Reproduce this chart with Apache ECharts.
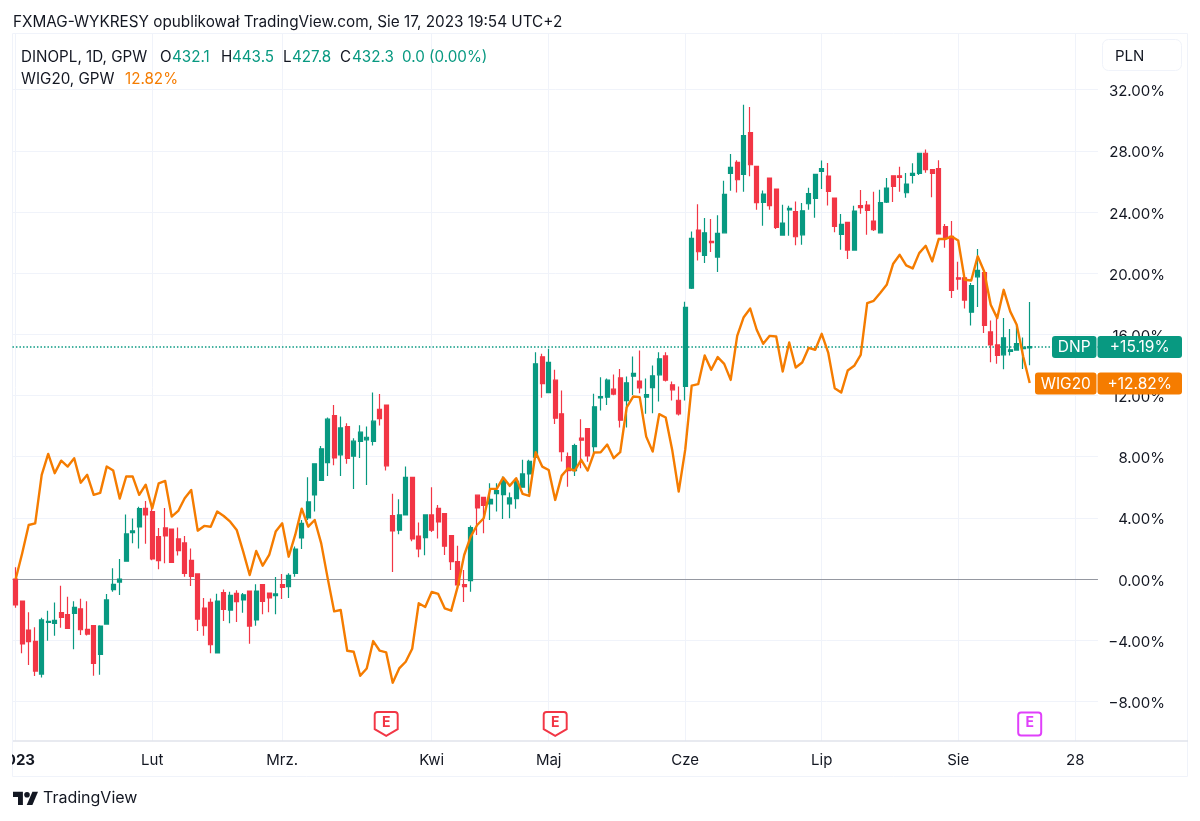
<!DOCTYPE html>
<html><head><meta charset="utf-8">
<style>html,body{margin:0;padding:0;background:#fff}#c{width:1200px;height:821px}</style>
<script src="https://cdn.jsdelivr.net/npm/echarts@6/dist/echarts.min.js"></script>
</head><body><div id="c"></div>
<script>
const tickIndex=[0,21,41,64,82,103,124,145,163];
const tickText=['2023','Lut','Mrz.','Kwi','Maj','Cze','Lip','Sie','28'];
const percentTicks=[-8,-4,0,4,8,12,16,20,24,28,32];
const opens=[0,-1.44,-3.34,-4.08,-6.22,-2.84,-2.9,-2.2,-2.33,-2.25,-1.96,-3.29,-3.05,-4.93,-2.95,-0.7,-0.2,1.16,3.03,3.4,4.62,4.41,2.77,3.34,3.27,2.62,2.36,1.22,0.33,-1.9,-1.53,-4.84,-0.89,-2.03,-0.94,-1.37,-0.79,-2.68,-0.37,-0.92,-1.09,
-0.37,-0.5,0.37,2.68,3.99,5.5,6.44,7.61,10.69,8.12,9.97,8.03,8.99,9.1,8.99,11.1,11.37,4.14,3.19,4.19,6.65,2.81,2.71,4.19,4.62,4.28,2.84,1.13,-0.37,-0.11,5.48,5.34,4.91,5.58,5.52,4.91,5.26,6,6.87,
7.96,14.53,12.19,13,10.8,8.01,7.09,9.21,9.84,8.66,11.85,11.89,12.41,13.15,11.67,13.26,12.94,11.89,12.52,13.35,14.59,12.7,11.69,12.59,
19.02,22.82,21.16,22.08,21.05,22.64,26.53,27.25,26.46,29.19,26.98,24.63,26.22,25.5,22.49,24.13,24.02,22.51,24.54,24.89,26.66,26.35,24.91,22.53,23.32,21.51,24.41,24.45,23.41,22.64,
24.65,26.37,26.37,25.26,26.4,26.53,27.84,26.77,26.83,23.04,22.4,19.7,19.7,17.45,19.76,20.03,16.16,15.31,14.66,14.88,14.97,15.07,15.12];
const closes=[-1.7,-4.25,-4.1,-6.02,-2.68,-2.77,-2.71,-2.51,-3.23,-1.85,-3.32,-3.6,-5.52,-3.08,-1.37,-0.35,0,2.95,3.14,4.6,4.19,1.31,1.2,2.81,1.09,1.85,0.37,0.17,-2.62,-3.05,-4.3,-1.44,-1.99,-1.07,-1.48,-1.03,-3.08,-0.79,-1.46,-1.24,-0.98,
-0.55,0.24,1.96,3.64,5.04,7.53,8.51,10.45,7.92,9.88,7.88,9.01,9.6,9.27,10.32,10.49,7.4,3.14,4.19,6.65,2.62,1.96,4.19,3.19,3.73,2.14,1.13,-0.39,-0.5,3.36,4.65,4.82,5.21,5.78,6.48,5.3,6.39,6.87,7.7,
14.07,12.78,14.16,10.51,8.33,7.09,8.73,9.08,8.05,11.26,11.93,13,12.09,10.38,12.83,13.44,12.5,12.06,13.29,14.4,13,12.37,10.8,17.76,
22.27,21.4,22.64,21.99,22.6,25.15,26.92,26.11,28.99,27.09,24.61,25.17,24.41,22.99,23.28,24.24,22.38,24.08,25.2,26.46,26.83,25.35,23.06,23.19,21.51,24.06,24.28,24.11,22.84,24.61,
25.57,25.68,26.27,25.83,26.53,27.84,26.77,26.53,22.56,22.29,18.87,19.61,18.24,19.18,20.18,16.58,15.31,14.62,15.77,14.99,15.4,15.16,15.19];
const lows=[-1.88,-4.86,-5.63,-6.35,-6.44,-4.04,-3.71,-3.19,-3.27,-4.6,-3.66,-3.69,-6.33,-6.26,-2.97,-0.83,-1.05,1.13,2.33,1.99,2.31,1.22,0.63,1.03,1.07,1.53,0.15,-0.46,-3.4,-3.71,-4.86,-4.86,-2.75,-2.9,-2.81,-2.2,-4.23,-3.05,-2.31,-2.18,-2.31,
-1.31,-1.24,0.15,1.96,3.86,4.41,6.41,6.74,7.44,6.74,7.53,5.89,7.92,6.15,8.73,10.03,7.09,0.46,2.92,4.19,2.47,1.42,1.55,3.08,2.64,1.57,0.59,-0.39,-1.51,-0.83,2.88,2.99,3.86,4.41,3.93,3.97,4.6,6,5.61,
7.9,11.85,12.15,10.14,7.68,6.04,6.74,7.24,7.66,8.22,11.02,11.37,12.02,9.9,9.9,12.04,12.15,10.8,10.84,11.61,12.91,11.67,10.69,11.67,
18.96,20.83,20.66,21.38,20.07,22.62,25.39,25.28,25.33,26.33,24.15,23.1,24.15,22.88,22.45,22.45,21.82,21.86,24.15,23.63,25.5,24.43,22.67,21.53,20.92,21.49,23.89,22.51,22.75,22.62,
24.59,24.65,25.33,24.93,25.87,26.42,26.57,24.96,22.54,21.66,18.37,18.91,17.69,16.58,17.78,16.08,14.18,14.07,13.72,14.62,14.92,13.74,13.98];
const highs=[0.76,-1.44,-2.18,-3.16,-2.53,-2.07,-1.53,-0.44,-1.16,-1.46,-1.29,-1.46,-3.05,-3.03,-0.98,0.7,1.31,4.21,3.95,4.73,5.1,4.95,3.34,4.65,3.27,3.36,2.81,1.99,0.37,-1.24,-1.27,-0.96,-0.68,-0.83,-0.74,-0.92,-0.79,-0.35,-0.37,-0.92,0.13,
0.33,0.37,2.12,3.86,6.65,7.57,8.7,10.56,11.37,10.62,10.19,9.21,10.06,9.97,12.19,12.09,11.37,5.58,5.21,7.35,6.65,3.69,4.19,6,4.84,4.28,2.84,2.18,0.59,3.49,5.48,5.34,6.26,6.26,6.7,5.65,6.59,7.79,7.79,
14.83,14.73,15.05,13.68,12.33,8.27,8.84,10.45,9.84,12.11,13.2,13.11,13.37,13.74,13.24,14.55,14.94,13.11,13.96,14.83,14.83,12.91,12.59,18.13,
22.73,24.5,23.6,23.54,23.78,26.05,27.79,27.38,31.02,30.87,27.03,25.41,26.22,25.5,24.48,24.41,24.69,24.59,25.59,26.46,27.36,27.2,24.91,23.87,23.32,24.41,25.44,24.72,25.33,25.46,
26.22,26.37,26.96,26.55,27.18,27.84,28.08,26.77,27.38,23.21,23.41,20.75,19.7,19.35,21.58,20.03,16.91,17.06,17.06,16.34,16.58,15.79,18.11];
const wig20=[0,1.68,3.53,3.64,6.81,8.18,6.92,7.74,7.35,7.9,6.3,6.81,5.5,5.63,7.35,7.09,5.26,6.7,6.7,5.5,6.17,4.62,6.26,6.41,4.08,4.45,5.28,5.82,3.16,3.47,3.42,4.41,4.12,3.75,3.21,1.79,0.26,1.83,0.87,1.57,3.1,
3.64,1.46,2.88,4.6,3.42,3.86,2.33,0.04,-2.12,-2.03,-4.69,-4.76,-6.33,-5.85,-4.06,-4.69,-4.8,-6.78,-5.85,-5.41,-4.56,-1.59,-1.83,-0.85,-0.98,-1.92,-2.07,-0.5,1.57,2.77,3.53,3.97,5.89,5.89,6.63,6.09,6.59,5.56,5.43,
8.29,7.35,7.13,5.17,6.76,7.24,7.09,7.79,7.09,8.27,8.29,8.79,7.9,8.29,11.23,11.93,11.89,9.31,8.33,10.78,10.56,8.44,5.72,8.44,12.65,12.74,
14.62,13.68,14.51,14.07,13.02,15.9,17.12,17.69,16.3,15.38,15.9,15.86,13.57,15.47,13.83,14.16,15.12,14.99,16.03,14.81,12.48,12.19,13.63,13.94,14.66,18.04,18.19,18.7,
19.24,20.62,21.2,20.51,20.31,21.31,21.79,20.77,22.23,22.23,22.4,22.14,19.57,19.52,21.1,20.11,17.93,17.06,18.91,17.5,16.62,14.55,12.82];
const lastDnp=15.19;

const GREEN='#089981',RED='#f23645',ORANGE='#f57c00',PURPLE='#e040fb',INK='#131722',GRID='#f0f3fa',FONT='Inter, "Noto Sans", sans-serif';
const barCount=167;
const categories=[];
for(let i=0;i<barCount;i++){const k=tickIndex.indexOf(i);categories.push(k>=0?tickText[k]:'b'+i);}
const candleData=opens.map((o,i)=>[o,closes[i],lows[i],highs[i]]);
const isTick=(i)=>tickIndex.indexOf(i)>=0;
const shield='path://M3 0H21A3 3 0 0 1 24 3V18L12 25L0 18V3A3 3 0 0 1 3 0Z';
const square='path://M3 0H21A3 3 0 0 1 24 3V21A3 3 0 0 1 21 24H3A3 3 0 0 1 0 21V3A3 3 0 0 1 3 0Z';
function earn(i,sym,col,size){return {coord:[i,-9.48],symbol:sym,symbolSize:size,
  itemStyle:{color:'#fff',borderColor:col,borderWidth:2},
  label:{show:true,formatter:'E',color:col,fontSize:14,fontWeight:'bold',fontFamily:FONT,position:'inside',offset:[0,-1]}};}
function txt(x,y,t,col,size,extra){return Object.assign({type:'text',x:x,y:y,z:50,silent:true,
  style:{text:t,fill:col||INK,font:(size||15)+'px '+FONT,textVerticalAlign:'middle',textAlign:'left'}},extra||{});}
function badge(x,y,w,h,col,t){return [
  {type:'rect',z:60,silent:true,shape:{x:x,y:y,width:w,height:h,r:3},style:{fill:col}},
  {type:'text',z:61,silent:true,x:x+w/2,y:y+h/2+0.5,style:{text:t,fill:'#fff',font:'15.5px '+FONT,textAlign:'center',textVerticalAlign:'middle'}}];}
const graphics=[
  {type:'rect',z:0,silent:true,shape:{x:12.5,y:33.5,width:1175,height:743},style:{fill:'none',stroke:GRID,lineWidth:1}},
  {type:'line',z:40,silent:true,shape:{x1:13,y1:741,x2:1188,y2:741},style:{stroke:'#e0e3eb',lineWidth:1.5}},
  {type:'rect',z:45,silent:true,shape:{x:0,y:742,width:12,height:33},style:{fill:'#fff'}},
  {type:'rect',z:45,silent:true,shape:{x:1102.5,y:39.5,width:79,height:31,r:6},style:{fill:'#fff',stroke:GRID,lineWidth:1}},
  txt(1115,56,'PLN',INK,15),
  txt(13,22,'FXMAG-WYKRESY opublikował TradingView.com, Sie 17, 2023 19:54 UTC+2',INK,15.3),
  txt(21,57,'DINOPL, 1D, GPW',INK,15.2),
  txt(160,57,'O',INK,15.2),txt(172,57,'432.1',GREEN,15.2),
  txt(221,57,'H',INK,15.2),txt(232,57,'443.5',GREEN,15.2),
  txt(283,57,'L',INK,15.2),txt(292,57,'427.8',GREEN,15.2),
  txt(340,57,'C',INK,15.2),txt(352,57,'432.3',GREEN,15.2),
  txt(402,57,'0.0 (0.00%)',GREEN,15.2),
  txt(21,79,'WIG20, GPW',INK,15.2),txt(125,79,'12.82%',ORANGE,15.2),
  {type:'polygon',z:50,silent:true,shape:{points:[[13,791.7],[22.9,791.7],[22.9,805],[18,805],[18,796.9],[13,796.9]]},style:{fill:INK}},
  {type:'polygon',z:50,silent:true,shape:{points:[[32.4,791.7],[38,791.7],[32.4,805],[26.7,805]]},style:{fill:INK}},
  {type:'circle',z:50,silent:true,shape:{cx:27,cy:794.7,r:2.8},style:{fill:INK}},
  txt(43,798.5,'TradingView',INK,16)
].concat(badge(1052,336,44.5,22,GREEN,'DNP'),badge(1097.5,336,84.5,22,GREEN,'+15.19%'),
         badge(1035,372.5,61.5,22,ORANGE,'WIG20'),badge(1097.5,372.5,84.5,22,ORANGE,'+12.82%'));

const chart=echarts.init(document.getElementById('c'),null,{renderer:'canvas'});
chart.setOption({
  animation:false,backgroundColor:'#fff',
  grid:{left:12.45,width:1085.5,top:34,height:707,containLabel:false,outerBoundsMode:'none'},
  xAxis:{type:'category',data:categories,boundaryGap:true,
    axisLine:{show:false},axisTick:{show:false,alignWithLabel:true,interval:(i)=>isTick(i)},
    splitLine:{show:true,alignWithLabel:true,interval:(i)=>isTick(i),lineStyle:{color:GRID,width:1}},
    axisLabel:{show:true,interval:(i)=>isTick(i),margin:12,color:INK,fontSize:15,fontFamily:FONT,hideOverlap:false,
      formatter:(v)=>v==='2023'?'{b|2023}':v,rich:{b:{fontWeight:'bold',fontSize:15,fontFamily:FONT,color:INK}}}},
  yAxis:{type:'value',position:'right',min:-10.595,max:35.64,scale:false,
    axisLine:{show:false},axisTick:{show:false,customValues:percentTicks},
    splitLine:{show:true,lineStyle:{color:GRID,width:1}},
    axisLabel:{show:true,customValues:percentTicks,inside:false,margin:67,align:'right',verticalAlign:'middle',color:INK,fontSize:15,fontFamily:FONT,
      formatter:(v)=>'{p|'+v.toFixed(2).replace('-','\u2212')+'%}',
      rich:{p:{fontSize:15,fontFamily:FONT,color:INK,padding:[4,0,0,0]}}}},
  series:[
    {type:'candlestick',name:'DINOPL',data:candleData,barWidth:4.2,z:3,
      itemStyle:{color:GREEN,color0:RED,borderColor:GREEN,borderColor0:RED,borderWidth:1.2},
      markLine:{silent:true,symbol:'none',animation:false,z:2,label:{show:false},
        data:[{yAxis:0,lineStyle:{color:'#9598a1',width:1.2,type:'solid'}},
              {yAxis:lastDnp,lineStyle:{color:GREEN,width:1.5,type:[1.5,2]}}]},
      markPoint:{silent:true,animation:false,z:10,
        data:[earn(57,shield,RED,[23,24]),earn(83,shield,RED,[23,24]),earn(156,square,PURPLE,[23,23])]}},
    {type:'line',name:'WIG20',data:wig20,z:5,symbol:'none',smooth:false,showSymbol:false,
      lineStyle:{color:ORANGE,width:2.4,join:'round'},itemStyle:{color:ORANGE}}
  ],
  graphic:graphics
});
</script></body></html>
